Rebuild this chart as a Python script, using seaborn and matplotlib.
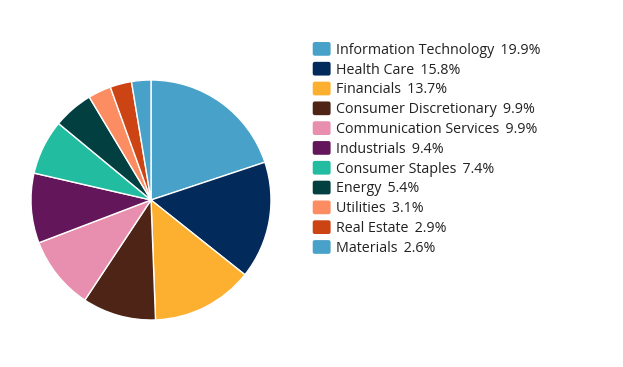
import matplotlib
matplotlib.use("Agg")
import matplotlib.pyplot as plt
import seaborn as sns
from matplotlib.patches import FancyBboxPatch, Rectangle
from matplotlib.legend_handler import HandlerPatch

sectors = ["Information Technology", "Health Care", "Financials", "Consumer Discretionary",
           "Communication Services", "Industrials", "Consumer Staples", "Energy",
           "Utilities", "Real Estate", "Materials"]
weights = [19.9, 15.8, 13.7, 9.9, 9.9, 9.4, 7.4, 5.4, 3.1, 2.9, 2.6]
colors_hex = ["#48a1c8", "#022a5a", "#fdb030", "#4d2415", "#e88faf", "#63165a",
              "#22bca1", "#013f40", "#fc8d62", "#cc4314", "#48a1c8"]

sns.set_theme(style="white")
plt.rcParams['font.family'] = ['Open Sans', 'DejaVu Sans']
palette = sns.color_palette(colors_hex)

fig = plt.figure(figsize=(6.23, 3.67), dpi=100)
ax = fig.add_axes([31/623, 1 - 320/367, 240/623, 240/367])
ax.pie(weights, colors=palette, startangle=90, counterclock=False,
       wedgeprops=dict(edgecolor="white", linewidth=1))
ax.set_xlim(-1.0, 1.0)
ax.set_ylim(-1.0, 1.0)
ax.set_aspect("equal")


def rounded(legend, orig_handle, xdescent, ydescent, width, height, fontsize):
    return FancyBboxPatch((-xdescent + 1.5, -ydescent + 1.0), width - 3, height - 2,
                          boxstyle="round,pad=1.5")


handles = [Rectangle((0, 0), 1, 1, facecolor=c, edgecolor="none") for c in palette]
labels = [f"{s}\u2009 {w:.1f}%" for s, w in zip(sectors, weights)]
leg = fig.legend(handles, labels, loc="upper left",
                 bbox_to_anchor=(307/623, 1 - 37/367), frameon=False,
                 fontsize=10.3, handlelength=1.25, handleheight=0.95,
                 handletextpad=0.4, labelspacing=0.33, borderaxespad=0,
                 handler_map={Rectangle: HandlerPatch(patch_func=rounded)})
for t in leg.get_texts():
    t.set_color("#222222")

fig.savefig("out.png", dpi=100)
